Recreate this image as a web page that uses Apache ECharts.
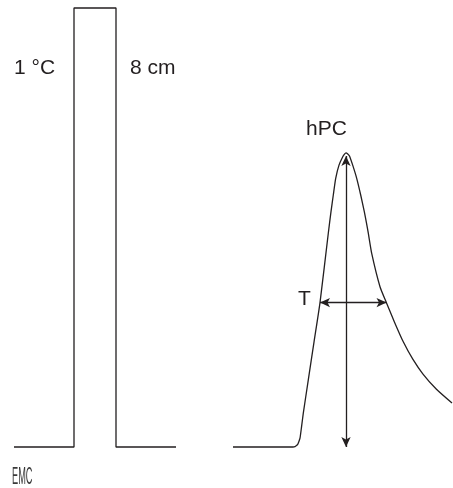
<!DOCTYPE html>
<html>
<head>
<meta charset="utf-8">
<script src="https://cdn.jsdelivr.net/npm/echarts@6/dist/echarts.min.js"></script>
<style>
  html, body { margin: 0; padding: 0; background: #fff; }
  #chart { width: 453px; height: 488px; }
</style>
</head>
<body>
<div id="chart"></div>
<script>
// Injected plug: a rectangular pulse (time, level in % of plug height)
const pulseTime  = [14, 74, 74, 116, 116, 176];
const pulseLevel = [0, 0, 100, 100, 0, 0];

// Eluted peak after the column: fronting rise, apex, exponential tail
const peakTime = [233, 293, 295, 296.5, 297.7, 298.8, 300, 301.6, 303.3, 308.3, 314, 320, 328.3, 331, 333.3,
                  335.7, 339, 342.5, 344.5, 346, 347.5, 349.5, 352.7, 356.7, 360.7, 364.3, 366.5, 368.3,
                  371.7, 380, 386, 394.4, 403.4, 412.8, 423, 436.2, 452];
const peakLevel = [0, 0, 0.1, 0.35, 0.6, 1.2, 2.0, 4.7, 7.7, 15.3, 23.9, 32.9, 48.7, 53.6, 57.4,
                   61.2, 64.2, 66.0, 66.7, 67.0, 66.8, 66.3, 64.2, 61.2, 57.4, 53.6, 51.0, 48.7,
                   44.1, 36.5, 33.1, 28.5, 23.9, 20.0, 16.6, 13.2, 10.0];

// Peak height arrow (baseline to apex) and width arrow across the peak
const apexTime = 346;
const apexLevel = 66.3;
const widthLevel = 32.9;
const widthFrom = 320;
const widthTo = 386.5;

const ink = '#231f20';
const font = '21px "Liberation Sans", Arial, sans-serif';
const chart = echarts.init(document.getElementById('chart'));

chart.setOption({
  animation: false,
  grid: { left: 0, right: 0, top: 8, bottom: 41 },
  xAxis: { type: 'value', min: 0, max: 453, show: false },
  yAxis: { type: 'value', min: 0, max: 100, show: false },
  series: [
    {
      type: 'line',
      data: pulseTime.map((t, i) => [t, pulseLevel[i]]),
      showSymbol: false,
      clip: false,
      lineStyle: { color: ink, width: 1.3 }
    },
    {
      type: 'line',
      data: peakTime.map((t, i) => [t, peakLevel[i]]),
      showSymbol: false,
      clip: false,
      smooth: 0.2,
      lineStyle: { color: ink, width: 1.3 },
      markLine: {
        silent: true,
        symbol: ['arrow', 'arrow'],
        symbolSize: [7, 10],
        label: { show: false },
        lineStyle: { color: ink, width: 1.3, type: 'solid' },
        data: [
          [{ coord: [apexTime, 0] }, { coord: [apexTime, apexLevel] }],
          [{ coord: [widthFrom, widthLevel] }, { coord: [widthTo, widthLevel] }]
        ]
      }
    }
  ],
  graphic: [
    { type: 'text', left: 14, top: 58, style: { text: '1 °C', font: font, fill: ink } },
    { type: 'text', left: 130, top: 58, style: { text: '8 cm', font: font, fill: ink } },
    { type: 'text', left: 306, top: 119, style: { text: 'hPC', font: font, fill: ink } },
    { type: 'text', left: 298, top: 289, style: { text: 'T', font: font, fill: ink } },
    { type: 'text', x: 12, y: 466, scaleX: 0.4, style: { text: 'EMC', font: '23px "Liberation Sans", Arial, sans-serif', fill: '#3a3a3a' } }
  ]
});
</script>
</body>
</html>
